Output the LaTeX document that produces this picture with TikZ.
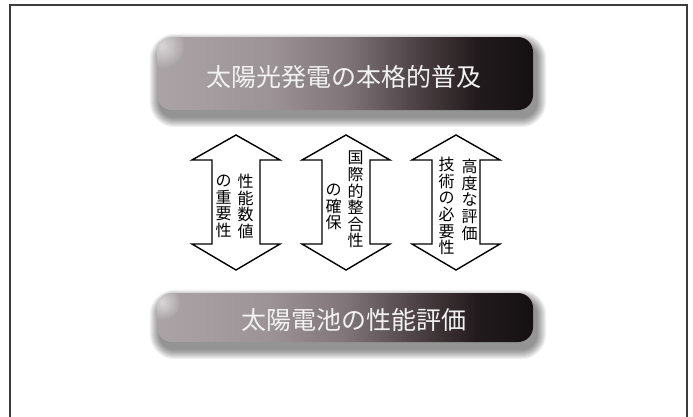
\documentclass[tikz,border=0pt]{standalone}
\usepackage{fontspec}
\newfontfamily\jp{Noto Sans CJK JP}
\definecolor{frame}{HTML}{3C3C3C}
\definecolor{textw}{HTML}{F2F2F2}
\definecolor{boxA}{HTML}{ABA4A7}
\definecolor{boxB}{HTML}{9C9396}
\definecolor{boxC}{HTML}{807578}
\definecolor{boxD}{HTML}{4A3F42}
\definecolor{boxE}{HTML}{221B1D}
\definecolor{boxF}{HTML}{141011}
\pgfdeclarehorizontalshading{boxshade}{100bp}{%
  color(0bp)=(boxA); color(25bp)=(boxA); color(40bp)=(boxB); color(50bp)=(boxC);
  color(60bp)=(boxD); color(67.5bp)=(boxE); color(75bp)=(boxF); color(100bp)=(boxF)}
\tikzset{
  gbox/.style={draw=none, shading=boxshade, rounded corners=15pt, inner sep=0pt},
  boxtext/.style={font=\jp\fontsize{25}{28}\selectfont, text=textw, inner sep=0pt},
  arrowshape/.style={draw=black, fill=white, line width=1.4pt, line join=miter},
  coltext/.style={font=\jp\fontsize{16}{16.6}\selectfont, align=center, anchor=north, inner sep=0pt, text=black},
  glow/.style={inner color=white!55!boxA, outer color=boxA},
}
\newcommand\dbarrow[1]{%
  \draw[arrowshape] (#1,135) -- (#1-44,160) -- (#1-24,160) -- (#1-24,244) -- (#1-44,244)
    -- (#1,270) -- (#1+44,244) -- (#1+24,244) -- (#1+24,160) -- (#1+44,160) -- cycle;}
\newcommand\boxshadow[1]{%
  \foreach \i in {1,...,10}{
    \fill[black, opacity=0.05, rounded corners=15pt+\i pt]
      ([shift={(3-\i,7+\i)}]#1.south west) rectangle ([shift={(3+\i,7-\i)}]#1.north east);
  }}
\begin{document}
\begin{tikzpicture}[x=1pt,y=-1pt]
\useasboundingbox (0,0) rectangle (693,416);
\fill[white] (0,0) rectangle (693,416);
% frame
\draw[frame, line width=1.6pt] (10,425) -- (10,5) -- (687,5) -- (687,425);

% top box
\node[minimum width=376pt, minimum height=73pt, inner sep=0pt] (topghost) at (345,73.5) {};
\boxshadow{topghost}
\node[gbox, minimum width=376pt, minimum height=73pt] (topbox) at (345,73.5) {};
\begin{scope}
  \clip[rounded corners=15pt] (topbox.south west) rectangle (topbox.north east);
  \shade[glow] (162,46) circle (22);
\end{scope}
\node[boxtext] (toptext) at (344,77) {太陽光発電の本格的普及};

% bottom box
\node[minimum width=376pt, minimum height=49pt, inner sep=0pt] (botghost) at (345,317.5) {};
\boxshadow{botghost}
\node[gbox, minimum width=376pt, minimum height=49pt] (botbox) at (345,317.5) {};
\begin{scope}
  \clip[rounded corners=15pt] (botbox.south west) rectangle (botbox.north east);
  \shade[glow] (162,302) circle (18);
\end{scope}
\node[boxtext] (bottext) at (354,320) {太陽電池の性能評価};

% arrows
\dbarrow{236}
\dbarrow{346}
\dbarrow{456}

% arrow texts
\node[coltext] (a1r) at (245.5,174) {性\\能\\数\\値};
\node[coltext] (a1l) at (223.5,175) {の\\重\\要\\性};
\node[coltext] (a2r) at (355.5,151) {国\\際\\的\\整\\合\\性};
\node[coltext] (a2l) at (333.5,184) {の\\確\\保};
\node[coltext] (a3r) at (469.5,159) {高\\度\\な\\評\\価};
\node[coltext] (a3l) at (446.5,157) {技\\術\\の\\必\\要\\性};
\end{tikzpicture}
\end{document}
